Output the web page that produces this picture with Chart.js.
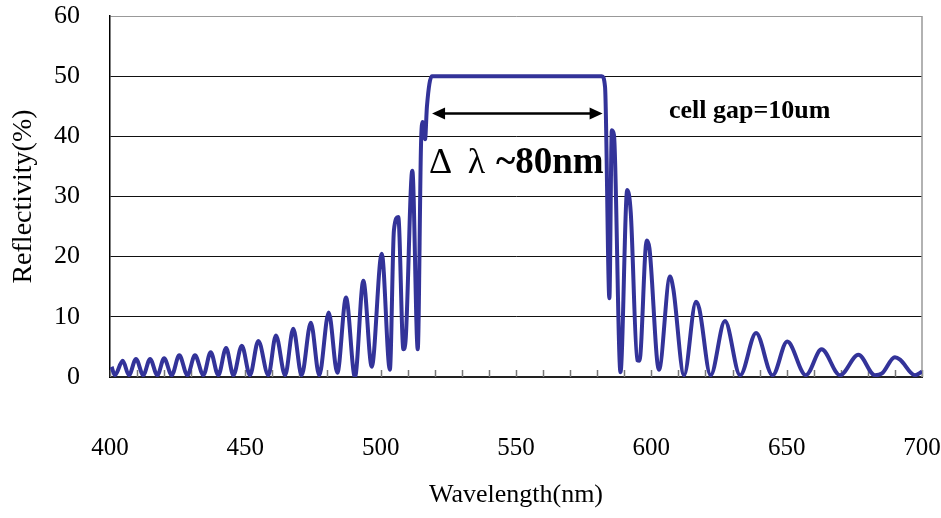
<!DOCTYPE html>
<html>
<head>
<meta charset="utf-8">
<script src="https://cdn.jsdelivr.net/npm/chart.js@4.4.1/dist/chart.umd.min.js"></script>
<style>
  body { margin: 0; background: #fff; }
  canvas { display: block; }
</style>
</head>
<body>
<canvas id="chart" width="941" height="518"></canvas>
<script>
// wavelength (nm) and reflectivity (%)
const wavelength = [400.6, 401.8, 404.7, 407.0, 409.6, 412.3, 414.8, 417.5, 420.0, 422.8, 425.6, 428.6, 431.4, 434.5, 437.2, 440.0,
    442.9, 445.6, 448.7, 451.7, 454.8, 458.5, 461.3, 464.7, 467.7, 470.8, 474.2, 477.3, 480.8, 484.0, 487.2, 490.5, 493.6, 496.7,
    500.4, 503.4, 504.9, 506.5, 508.4, 509.2, 511.7, 513.7, 514.9, 515.5, 516.4, 517.1, 518.9, 519.6, 581.0, 581.7, 582.9, 584.5,
    585.4, 586.2, 588.6, 591.1, 592.4, 594.8, 595.6, 598.3, 599.3, 602.8, 606.9, 608.1, 612.1, 616.5, 617.7, 621.9, 627.2, 632.8,
    638.7, 644.8, 650.2, 657.1, 662.9, 669.7, 676.5, 682.6, 685.2, 690.0, 691.9, 697.4, 700.0];
const reflectivity = [1.7, 0.3, 2.7, 0.3, 3.0, 0.3, 3.0, 0.3, 3.1, 0.3, 3.6, 0.3, 3.6, 0.3, 4.1, 0.3,
    4.8, 0.3, 5.2, 0.3, 6.0, 0.3, 6.9, 0.3, 8.0, 0.3, 9.0, 0.3, 10.7, 0.7, 13.2, 0.0, 16.0, 1.7,
    20.5, 1.2, 24.4, 26.6, 4.6, 6.0, 34.3, 4.6, 38.5, 42.4, 39.5, 45.0, 50, 50, 50, 50, 48.2, 13.1,
    41.0, 40.2, 0.8, 31.1, 27.3, 2.8, 2.7, 22.7, 21.4, 1.2, 16.7, 14.7, 0.3, 12.5, 11.4, 0.3, 9.3, 0.3,
    7.3, 0.3, 5.9, 0.3, 4.6, 0.3, 3.7, 0.3, 0.6, 3.3, 2.9, 0.3, 0.9];

const xRange = [400, 700];
const yRange = [0, 60];
const xLabelTicks = [400, 450, 500, 550, 600, 650, 700];

// bandwidth arrow and labels
const bandEdges = [519, 582];
const bandArrowY = 43.8;
const bandLabel = ['Δ', 'λ', '~80nm'];
const gapLabel = 'cell gap=10um';

const points = wavelength.map((w, i) => ({ x: w, y: reflectivity[i] }));

// keep the plot box fixed, whatever the tick labels want
function fixBox(size) {
    return s => {
        if (s.isHorizontal()) s.height = size; else s.width = size;
        s.paddingLeft = s.paddingRight = s.paddingTop = s.paddingBottom = 0;
    };
}

const extras = {
    id: 'extras',
    beforeDatasetsDraw(chart) {
        const { ctx, chartArea: a, scales: { x } } = chart;
        ctx.save();
        // small tick marks every 10 nm, pointing up from the axis
        ctx.strokeStyle = '#777';
        ctx.lineWidth = 1.5;
        x.ticks.forEach(t => {
            const px = Math.round(x.getPixelForValue(t.value)) + 0.5;
            ctx.beginPath();
            ctx.moveTo(px, a.bottom);
            ctx.lineTo(px, a.bottom - 7);
            ctx.stroke();
        });
        // grey frame on the right side
        ctx.strokeStyle = '#999';
        ctx.lineWidth = 1.5;
        ctx.beginPath();
        ctx.moveTo(a.right, a.top);
        ctx.lineTo(a.right, a.bottom);
        ctx.stroke();
        ctx.restore();
    },
    afterDatasetsDraw(chart) {
        const { ctx, scales: { x, y } } = chart;
        ctx.save();
        // double headed arrow
        const x1 = x.getPixelForValue(bandEdges[0]);
        const x2 = x.getPixelForValue(bandEdges[1]);
        const ay = y.getPixelForValue(bandArrowY);
        ctx.strokeStyle = '#000';
        ctx.fillStyle = '#000';
        ctx.lineWidth = 2.5;
        ctx.beginPath();
        ctx.moveTo(x1 + 8, ay);
        ctx.lineTo(x2 - 8, ay);
        ctx.stroke();
        ctx.beginPath();
        ctx.moveTo(x1, ay);
        ctx.lineTo(x1 + 13, ay - 6);
        ctx.lineTo(x1 + 13, ay + 6);
        ctx.closePath();
        ctx.fill();
        ctx.beginPath();
        ctx.moveTo(x2, ay);
        ctx.lineTo(x2 - 13, ay - 6);
        ctx.lineTo(x2 - 13, ay + 6);
        ctx.closePath();
        ctx.fill();

        // Δ λ ~80nm
        ctx.textBaseline = 'alphabetic';
        ctx.textAlign = 'left';
        const by = y.getPixelForValue(33.9);
        ctx.font = '36px "Liberation Serif"';
        ctx.fillText(bandLabel[0], x.getPixelForValue(517.9), by);
        ctx.fillText(bandLabel[1], x.getPixelForValue(532.2), by);
        ctx.font = 'bold 37px "Liberation Serif"';
        ctx.fillText(bandLabel[2], x.getPixelForValue(542.6), by);

        // cell gap
        ctx.font = 'bold 26px "Liberation Serif"';
        ctx.fillText(gapLabel, x.getPixelForValue(606.5), y.getPixelForValue(43.0));
        ctx.restore();
    }
};

new Chart(document.getElementById('chart').getContext('2d'), {
    type: 'line',
    data: {
        datasets: [{
            data: points,
            borderColor: '#333399',
            borderWidth: 4,
            pointRadius: 0,
            cubicInterpolationMode: 'monotone',
            fill: false
        }]
    },
    options: {
        responsive: false,
        animation: false,
        devicePixelRatio: 1,
        layout: { autoPadding: false, padding: { top: 16, right: 19, left: 0, bottom: 0 } },
        plugins: { legend: { display: false }, tooltip: { enabled: false } },
        scales: {
            x: {
                type: 'linear',
                min: xRange[0],
                max: xRange[1],
                afterFit: fixBox(141),
                grid: { display: false },
                border: { display: true, color: '#222', width: 2 },
                ticks: {
                    stepSize: 10,
                    autoSkip: false,
                    maxRotation: 0,
                    padding: 48,
                    color: '#000',
                    font: { family: 'Liberation Serif', size: 25 },
                    callback: v => xLabelTicks.includes(v) ? String(v) : ''
                },
                title: {
                    display: true,
                    text: 'Wavelength(nm)',
                    color: '#000',
                    font: { family: 'Liberation Serif', size: 26 },
                    padding: { top: 0, bottom: 7 }
                }
            },
            y: {
                min: yRange[0],
                max: yRange[1],
                afterFit: fixBox(110),
                grid: {
                    drawTicks: false,
                    color: c => c.tick && c.tick.value === yRange[1] ? '#999' : '#111',
                    lineWidth: 1
                },
                border: { display: true, color: '#000', width: 1.5 },
                ticks: {
                    stepSize: 10,
                    padding: 30,
                    color: '#000',
                    font: { family: 'Liberation Serif', size: 26 }
                },
                title: {
                    display: true,
                    text: 'Reflectivity(%)',
                    color: '#000',
                    font: { family: 'Liberation Serif', size: 28 },
                    padding: { top: 7, bottom: 0 }
                }
            }
        }
    },
    plugins: [extras]
});
</script>
</body>
</html>
